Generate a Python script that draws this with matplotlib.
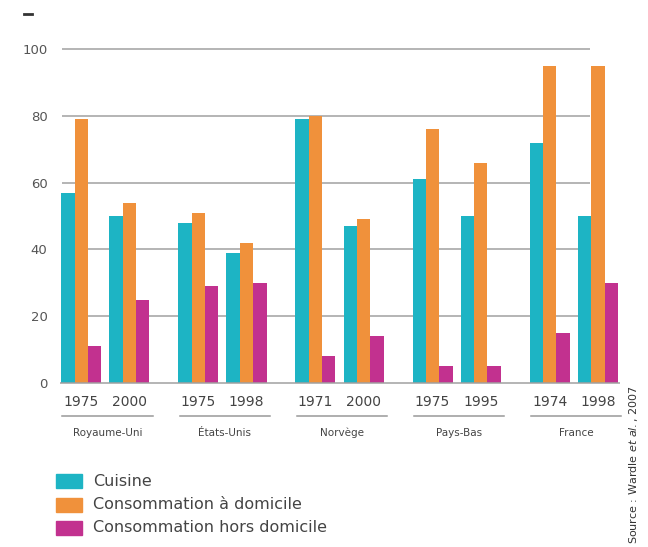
import numpy as np
import matplotlib.pyplot as plt
from matplotlib.patches import Rectangle
from matplotlib.lines import Line2D

countries = ['Royaume-Uni', 'États-Unis', 'Norvège', 'Pays-Bas', 'France']
years = ['1975', '2000', '1975', '1998', '1971', '2000', '1975', '1995', '1974', '1998']
cuisine = [57, 50, 48, 39, 79, 47, 61, 50, 72, 50]
conso_domicile = [79, 54, 51, 42, 80, 49, 76, 66, 95, 95]
conso_hors = [11, 25, 29, 30, 8, 14, 5, 5, 15, 30]
series_labels = ['Cuisine', 'Consommation à domicile', 'Consommation hors domicile']
colors = ['#1db4c4', '#f0913b', '#c2318f']

W, H = 648, 547
fig = plt.figure(figsize=(W / 100, H / 100), dpi=100)
ax = fig.add_axes([60 / W, (H - 383) / H, 560 / W, (383 - 49) / H])

step = 2.43
x = np.array([i * step + j for i in range(len(countries)) for j in range(2)])
bw = 0.277
series = [cuisine, conso_domicile, conso_hors]
for k, (vals, col) in enumerate(zip(series, colors)):
    ax.bar(x + (k - 1) * bw, vals, bw, color=col, zorder=2, label=series_labels[k])

ax.set_xlim(-0.44, 11.18)
ax.set_ylim(0, 100)

# horizontal grid, stopping short of the last group
ax.hlines([20, 40, 60, 80, 100], -0.4, 10.56, color='#a0a0a0', lw=1.1, zorder=1,
          clip_on=False)
ax.hlines(0, -0.44, 11.18, color='#a0a0a0', lw=1.1, zorder=3, clip_on=False)

for s in ax.spines.values():
    s.set_visible(False)
ax.set_yticks([0, 20, 40, 60, 80, 100])
ax.tick_params(axis='y', length=0, pad=9, labelsize=9.5, labelcolor='#555555')
ax.set_xticks(x)
ax.set_xticklabels(years)
ax.tick_params(axis='x', length=0, pad=9, labelsize=10, labelcolor='#444444')

# country underline + name below each pair of years
to_y = lambda py: (383 - py) / 334 * 100
for i, name in enumerate(countries):
    c = i * step + 0.5 + 0.05
    ax.add_line(Line2D([c - 0.94, c + 0.94], [to_y(416)] * 2, color='#999999',
                       lw=1.1, clip_on=False))
    ax.text(c, to_y(433), name, ha='center', va='center', fontsize=7.5,
            color='#444444', clip_on=False)

# legend swatches
for k, (lab, col) in enumerate(zip(series_labels, colors)):
    yc = 481 + k * 23.5
    fig.add_artist(Rectangle((56 / W, (H - yc - 7) / H), 26 / W, 14 / H,
                             color=col, transform=fig.transFigure))
    fig.text(93 / W, (H - yc) / H, lab, ha='left', va='center', fontsize=11.5,
             color='#444444')

fig.text(633 / W, (H - 385) / H, 'Source : Wardle $\\it{et\\ al.}$, 2007', rotation=90,
         ha='center', va='top', fontsize=8, color='#333333')

fig.add_artist(Line2D([24 / W, 32 / W], [(H - 14) / H] * 2, color='#333333', lw=2))

fig.savefig('out.png', dpi=100)
